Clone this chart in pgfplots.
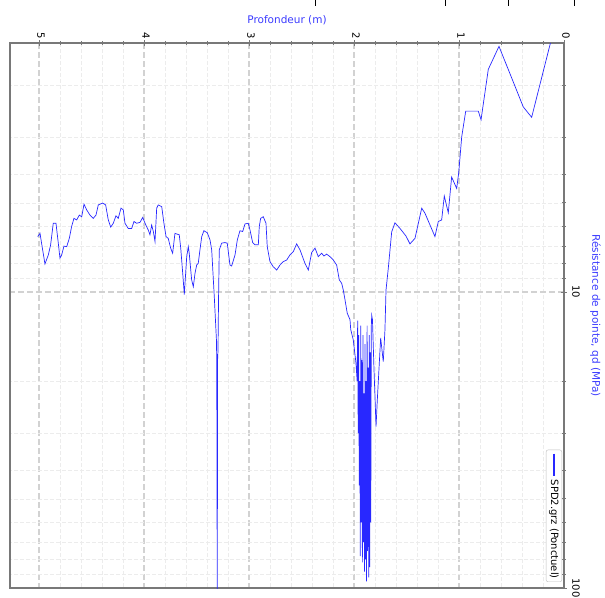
\documentclass[border=0pt]{standalone}
\usepackage{fontspec}
\setmainfont{DejaVu Sans}
\usepackage{pgfplots}
\pgfplotsset{compat=1.18}

\definecolor{lineblue}{RGB}{40,40,255}
\definecolor{labelblue}{RGB}{60,60,255}
\definecolor{framegray}{RGB}{120,120,120}

\begin{document}
\begin{tikzpicture}
\begin{axis}[
    at={(0pt,0pt)}, anchor=south west,
    scale only axis,
    width=554pt, height=545pt,
    x dir=reverse, y dir=reverse,
    xmin=0, xmax=5.276,
    ymode=log, ymin=1.442, ymax=100,
    xtick={0,1,2,3,4,5},
    minor x tick num=4,
    ytick={1,10,100}, yticklabels={1,10,100},
    minor ytick={2,3,4,5,6,7,8,9,20,30,40,50,60,70,80,90},
    xtick pos=right, xticklabel pos=right,
    ytick pos=right, yticklabel pos=right,
    tick align=center,
    major tick length=6pt, minor tick length=4pt,
    every tick/.style={framegray, line width=0.8pt},
    axis line style={framegray, line width=1.3pt},
    grid=both,
    major grid style={dash pattern=on 6pt off 3pt, gray!35, line width=1.3pt},
    minor grid style={dash pattern=on 4pt off 2pt, gray!15, line width=0.7pt},
    /pgf/number format/assume math mode=true,
    tick label style={font=\fontsize{10}{12}\selectfont, black},
    xticklabel style={rotate=-90, anchor=east, inner sep=1pt, yshift=2pt},
    yticklabel style={rotate=-90, anchor=south, inner sep=5pt},
    xlabel={Profondeur (m)},
    ylabel={Résistance de pointe, qd (MPa)},
    label style={font=\fontsize{10.5}{12}\selectfont, text=labelblue},
    xlabel style={yshift=3pt},
    ylabel style={rotate=180, yshift=2pt},
]
\addplot[lineblue, line width=0.7pt]
coordinates {
(0.12,1.40) (0.308,2.57) (0.388,2.37) (0.619,1.48) (0.721,1.77) (0.790,2.62)
(0.816,2.45) (0.936,2.45) (0.974,2.99) (1.003,3.97) (1.022,4.47) (1.070,4.09)
(1.102,5.40) (1.140,4.74) (1.165,5.71) (1.197,5.78) (1.229,6.50) (1.276,5.94)
(1.324,5.42) (1.355,5.21) (1.419,6.59) (1.467,6.88) (1.505,6.47) (1.562,6.10)
(1.610,5.84) (1.641,6.27) (1.673,8.30) (1.695,9.85) (1.705,13.4) (1.721,17.2)
(1.746,14.3) (1.759,17.4) (1.778,23.2) (1.790,28.5) (1.810,18.0) (1.824,12.4)
(1.831,12.0)
(1.835,13) (1.840,60) (1.845,16) (1.850,85) (1.855,14) (1.860,92) (1.865,18)
(1.870,75) (1.875,13) (1.880,95) (1.885,20) (1.890,80) (1.895,15) (1.900,88)
(1.905,22) (1.910,70) (1.915,14) (1.920,82) (1.925,17) (1.930,60) (1.935,13)
(1.940,78) (1.945,20) (1.950,45) (1.955,14) (1.960,30) (1.965,12.5) (1.970,20)
(1.981,17.4) (2.007,14.5) (2.031,13.4) (2.038,12.4) (2.064,11.8) (2.086,10.6)
(2.102,9.85) (2.117,9.35) (2.140,9.10) (2.165,8.11) (2.197,7.80) (2.229,7.60)
(2.260,7.45) (2.286,7.56) (2.308,7.40) (2.340,7.60) (2.371,7.11) (2.403,7.36)
(2.435,8.43) (2.467,8.00) (2.514,7.21) (2.546,6.88) (2.578,7.31) (2.610,7.50)
(2.641,7.80) (2.673,7.90) (2.705,8.11) (2.736,8.43) (2.769,8.22) (2.800,7.90)
(2.826,7.03) (2.838,5.86) (2.864,5.57) (2.889,5.64) (2.902,6.01) (2.911,6.93)
(2.943,6.93) (2.965,6.81) (2.990,6.18) (3.007,5.86) (3.038,5.89) (3.060,6.25)
(3.086,6.21) (3.111,6.67) (3.133,7.50) (3.165,8.17) (3.181,8.11) (3.207,6.84)
(3.229,6.81) (3.260,6.84) (3.283,7.21) (3.290,10.6) (3.295,15.7) (3.299,17.0)
(3.302,120) (3.307,17.0) (3.310,14.5) (3.329,10.6) (3.355,7.21) (3.371,6.67)
(3.397,6.31) (3.429,6.21) (3.450,6.50) (3.467,7.21) (3.483,8.00) (3.498,8.11)
(3.514,8.65) (3.530,9.60) (3.546,9.10) (3.569,7.40) (3.578,7.03) (3.593,7.60)
(3.616,10.2) (3.631,8.65) (3.650,7.11) (3.664,6.41) (3.689,6.37) (3.705,6.34)
(3.727,7.40) (3.746,7.11) (3.769,6.59) (3.790,6.50) (3.810,5.86) (3.831,5.15)
(3.864,5.08) (3.879,5.21) (3.895,6.76) (3.911,6.25) (3.927,5.94) (3.943,6.41)
(3.959,6.18) (3.990,5.86) (4.012,5.60) (4.038,5.82) (4.070,5.86) (4.095,5.78)
(4.117,6.10) (4.150,6.10) (4.181,5.86) (4.197,5.28) (4.219,5.21) (4.245,5.64)
(4.267,5.53) (4.292,5.86) (4.317,6.04) (4.340,5.71) (4.365,5.08) (4.393,5.01)
(4.435,5.08) (4.457,5.50) (4.483,5.64) (4.514,5.50) (4.546,5.28) (4.571,5.05)
(4.593,5.57) (4.616,5.50) (4.641,5.71) (4.667,5.64) (4.689,6.01) (4.711,6.59)
(4.736,7.03) (4.762,7.00) (4.784,7.50) (4.800,7.69) (4.816,6.84) (4.838,5.86)
(4.864,5.86) (4.889,6.93) (4.911,7.50) (4.943,8.04) (4.965,7.21) (4.990,6.34)
(5.012,6.50)
};
\end{axis}
% legend, turned with the rest of the chart
\node[rotate=-90, anchor=north east, draw=gray!50, rounded corners=2pt,
      fill=white, inner sep=3pt, font=\fontsize{10}{12}\selectfont]
    at (552pt,6pt)
    {\tikz[baseline=-3pt]\draw[lineblue, line width=1.6pt] (0pt,0pt) -- (22pt,0pt);\ SPD2.grz (Ponctuel)};
% remnants of the neighbouring axis at the top edge
\draw[black, line width=0.8pt] (305pt,582pt) -- (305pt,588pt)
    (435pt,582pt) -- (435pt,588pt) (498pt,582pt) -- (498pt,588pt)
    (564pt,582pt) -- (564pt,588pt);
\pgfresetboundingbox
\useasboundingbox (-10pt,-9pt) rectangle (595pt,588pt);
\end{tikzpicture}
\end{document}
